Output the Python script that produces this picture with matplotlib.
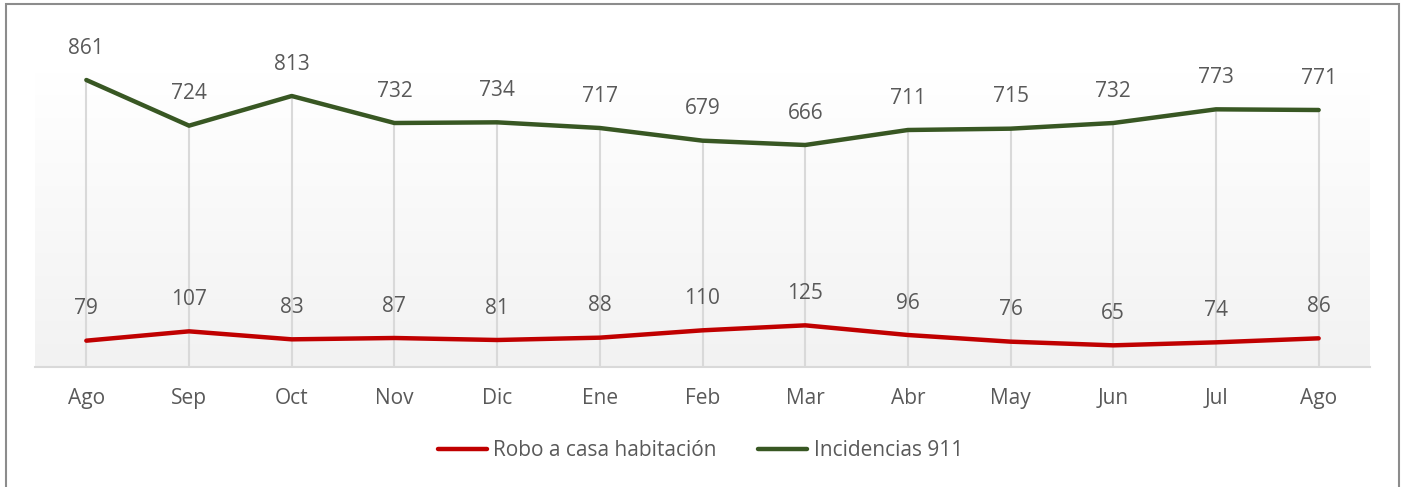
import numpy as np
import matplotlib.pyplot as plt
from matplotlib.colors import LinearSegmentedColormap
from matplotlib.patches import Rectangle

plt.rcParams['font.family'] = ['Open Sans', 'DejaVu Sans']

# data
months = ["Ago", "Sep", "Oct", "Nov", "Dic", "Ene", "Feb", "Mar", "Abr", "May", "Jun", "Jul", "Ago"]
robo = [79, 107, 83, 87, 81, 88, 110, 125, 96, 76, 65, 74, 86]
incidencias = [861, 724, 813, 732, 734, 717, 679, 666, 711, 715, 732, 773, 771]

text_color = '#595959'
red = '#C00000'
green = '#385723'
fs = 15

fig = plt.figure(figsize=(14.01, 4.87), dpi=100)
ax = fig.add_axes([35 / 1401, 1 - 367 / 487, 1335 / 1401, 295 / 487])

x = np.arange(len(months))
ax.set_xlim(-0.5, len(months) - 0.5)
ax.set_ylim(0, 885)

# gradient background of the plot area
grad = np.linspace(1.0, 0.0, 256).reshape(-1, 1)
ax.imshow(grad, extent=[-0.5, len(months) - 0.5, 0, 885], aspect='auto',
          cmap=LinearSegmentedColormap.from_list('g', ['#f2f2f2', '#ffffff']),
          zorder=0, origin='upper')

# drop lines from the highest point down to the axis
tops = np.maximum(robo, incidencias)
ax.vlines(x, 0, tops, color='#d9d9d9', lw=1.5, zorder=1)

ax.plot(x, robo, color=red, lw=3.2, solid_capstyle='round', zorder=3, label='Robo a casa habitación')
ax.plot(x, incidencias, color=green, lw=3.2, solid_capstyle='round', zorder=3, label='Incidencias 911')

for series in (robo, incidencias):
    for xi, v in zip(x, series):
        ax.annotate(str(v), (xi, v), xytext=(0, 23), textcoords='offset points',
                    ha='center', va='center', fontsize=fs, color=text_color)

ax.set_xticks(x)
ax.set_xticklabels(months, fontsize=fs, color=text_color)
ax.tick_params(axis='x', length=0, pad=15)
ax.set_yticks([])
for s in ['top', 'left', 'right']:
    ax.spines[s].set_visible(False)
ax.spines['bottom'].set_color('#d9d9d9')
ax.spines['bottom'].set_linewidth(1.5)

fig.legend(loc='center', bbox_to_anchor=(0.5, 1 - 451 / 487), ncol=2, frameon=False,
           fontsize=fs, labelcolor=text_color, handlelength=2.35, handletextpad=0.3,
           columnspacing=2.0)

# outer border
fig.patches.append(Rectangle((6 / 1401, -0.05), 1393 / 1401, 1.05 - 4 / 487,
                             transform=fig.transFigure, fill=False,
                             edgecolor='#8c8c8c', lw=1.5))

fig.savefig('out.png', dpi=100)
